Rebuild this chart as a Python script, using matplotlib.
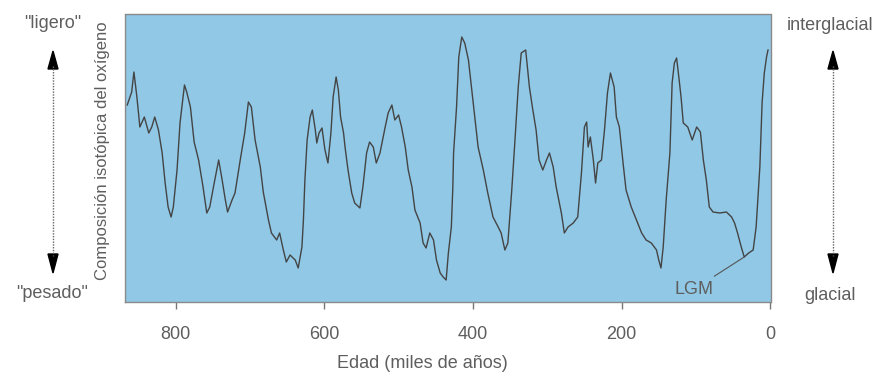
import numpy as np
import matplotlib
matplotlib.use("Agg")
import matplotlib.pyplot as plt

plt.rcParams['font.family'] = ['Liberation Sans', 'DejaVu Sans']

# edad en miles de años (eje invertido) y composición isotópica (unidades arbitrarias)
edad = [865, 859, 856, 852, 848, 842, 836, 832, 828, 823, 818, 814, 810, 806, 803,
        798, 794, 788, 785, 780, 775, 769, 763, 758, 754, 748, 742, 738, 733, 730,
        724, 720, 713, 707, 702, 698, 693, 686, 682, 675, 671, 664, 660, 655, 651,
        646, 639, 635, 630, 628, 626, 623, 619, 616, 612, 610, 607, 603, 599, 595,
        591, 588, 584, 581, 578, 574, 572, 568, 563, 559, 552, 548, 543, 539, 534,
        530, 525, 518, 514, 509, 505, 500, 496, 491, 487, 482, 478, 471, 467, 463,
        458, 453, 449, 444, 440, 436, 433, 429, 427, 426, 422, 419, 415, 411, 406,
        402, 397, 393, 386, 380, 373, 366, 362, 357, 353, 348, 344, 339, 335, 329,
        324, 320, 315, 311, 306, 301, 297, 292, 288, 281, 277, 272, 265, 259, 254,
        250, 247, 245, 242, 238, 235, 232, 227, 223, 219, 215, 210, 207, 203, 198,
        194, 187, 180, 173, 167, 160, 153, 150, 147, 144, 140, 135, 132, 129, 126,
        123, 120, 117, 111, 105, 99, 94, 90, 86, 82, 77, 68, 59, 52, 48,
        44, 39, 35, 29, 23, 19, 14, 11, 8, 5, 3]
isotopo = [197, 210, 230, 205, 175, 185, 169, 175, 185, 172, 149, 119, 95, 85, 95,
           132, 179, 217, 210, 195, 160, 142, 115, 89, 95, 119, 142, 125, 102, 90,
           102, 109, 142, 169, 200, 195, 162, 135, 110, 82, 69, 62, 69, 52, 40,
           47, 42, 34, 55, 82, 122, 162, 185, 192, 172, 159, 169, 174, 152, 139,
           169, 205, 225, 212, 185, 169, 155, 132, 109, 99, 94, 115, 149, 160, 155,
           139, 149, 175, 189, 197, 182, 187, 175, 155, 132, 115, 92, 79, 59, 54,
           69, 62, 42, 29, 25, 22, 49, 75, 115, 149, 195, 245, 265, 259, 242,
           215, 182, 155, 132, 109, 85, 75, 69, 52, 59, 109, 155, 215, 249, 252,
           215, 195, 172, 142, 132, 142, 149, 135, 115, 89, 69, 75, 79, 85, 129,
           175, 180, 155, 165, 142, 119, 139, 142, 172, 209, 229, 215, 185, 175, 139,
           112, 95, 82, 69, 62, 59, 52, 42, 34, 55, 102, 149, 219, 239, 244,
           225, 205, 179, 175, 162, 175, 170, 142, 122, 95, 90, 89, 90, 85, 79,
           69, 55, 45, 49, 52, 75, 135, 199, 229, 245, 252]

ticks = [800, 600, 400, 200, 0]
lgm = (35, 45)

gris = '#5e5e5e'

fig = plt.figure(figsize=(8.84, 3.73), dpi=100)
ax = fig.add_axes([125/884, 71/373, 646/884, 288/373])
ax.set_facecolor('#90c8e6')
ax.plot(edad, isotopo, color='#444444', lw=1.0)
ax.set_xlim(868, -1)
ax.set_ylim(0, 288)
ax.set_xticks(ticks)
ax.set_xticklabels([str(t) for t in ticks])
ax.set_yticks([])
ax.tick_params(axis='x', length=5, width=1, color='#777777', pad=12,
               labelsize=13, labelcolor=gris)
for s in ax.spines.values():
    s.set_linestyle((0, (1, 1)))
    s.set_color('#8a8a8a')
    s.set_linewidth(1)

ax.annotate('LGM', xy=lgm, xytext=(102, 13), ha='center', va='center',
            fontsize=13, color=gris,
            arrowprops=dict(arrowstyle='-', color='#555555', lw=0.8,
                            shrinkA=2, shrinkB=0))

# capa en píxeles para textos y flechas laterales
ov = fig.add_axes([0, 0, 1, 1], zorder=-1)
ov.set_xlim(0, 884)
ov.set_ylim(373, 0)
ov.axis('off')

ov.text(422, 363, 'Edad (miles de años)', ha='center', va='center',
        fontsize=13, color=gris)
ov.text(103, 151, 'Composición isotópica del oxígeno', ha='center', va='center',
        rotation=90, fontsize=12, color=gris)

ov.text(53, 23, '"ligero"', ha='center', va='center', fontsize=13, color=gris)
ov.text(52, 294, '"pesado"', ha='center', va='center', fontsize=13, color=gris)
ov.text(830, 25, 'interglacial', ha='center', va='center', fontsize=13, color=gris)
ov.text(830, 296, 'glacial', ha='center', va='center', fontsize=13, color=gris)

for x in [53, 833]:
    ov.plot([x, x], [66, 256], color='#666666', lw=1, ls=(0, (1, 1)))
    ov.fill([x, x - 5, x + 5], [51, 69, 69], color='black')
    ov.fill([x, x - 5, x + 5], [273, 254, 254], color='black')

fig.savefig('out.png', dpi=100)
